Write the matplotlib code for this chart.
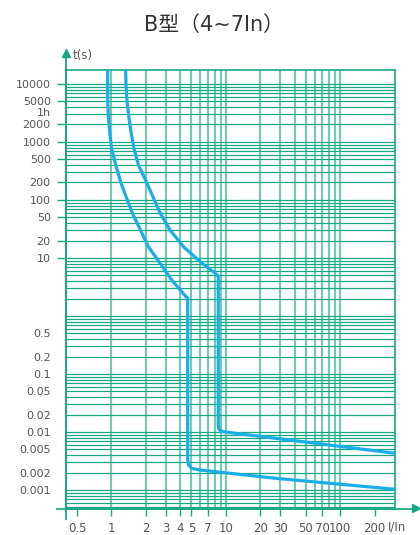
import matplotlib
matplotlib.use('Agg')
import matplotlib.pyplot as plt
import numpy as np
from matplotlib.ticker import FixedLocator, LogLocator, NullFormatter

plt.rcParams['font.family'] = ['DejaVu Sans']

# ---------------- data ----------------
title = 'B型（4~7In）'
x_ticks = [0.5, 1, 2, 3, 4, 5, 7, 10, 20, 30, 50, 70, 100, 200]
x_tick_labels = ['0.5', '1', '2', '3', '4', '5', '7', '10', '20', '30', '50', '70', '100', '200']
y_ticks = [10000, 5000, 2000, 1000, 500, 200, 100, 50, 20, 10,
           0.5, 0.2, 0.1, 0.05, 0.02, 0.01, 0.005, 0.002, 0.001]
y_tick_labels = ['10000', '5000', '2000', '1000', '500', '200', '100', '50', '20', '10',
                 '0.5', '0.2', '0.1', '0.05', '0.02', '0.01', '0.005', '0.002', '0.001']
hour_value = 3600
hour_label = '1h'

# curve at the 4In side
curve_a_I = [0.926, 0.926, 0.938, 0.961, 1.00, 1.09, 1.21, 1.52, 2.10, 3.36, 4.48, 4.64,
             4.64, 4.72, 5.06, 5.94, 27.3, 300]
curve_a_t = [17400, 5300, 2920, 1610, 788, 401, 196, 59.7, 15.7, 4.18, 2.15, 2.04,
             0.0033, 0.0027, 0.00235, 0.00221, 0.00159, 0.00103]

# curve at the 7In side
curve_b_I = [1.33, 1.34, 1.36, 1.41, 1.48, 1.57, 1.72, 2.04, 2.66, 3.25, 4.25, 6.15, 7.77,
             8.49, 8.59, 8.59, 8.71, 9.26, 10.2, 27.3, 300]
curve_b_t = [17400, 9610, 5740, 2920, 1506, 788, 401, 196, 59.7, 30.4, 15.7, 8.2, 5.8,
             4.99, 4.70, 0.0132, 0.0110, 0.0102, 0.0099, 0.00779, 0.0043]

x_range = (0.4, 300)
y_range = (0.00047, 17400)

# ---------------- style ----------------
green = '#19a883'
green_light = '#6ecdb1'
blue = '#1aaee8'
label_col = '#555555'

fig = plt.figure(figsize=(4.2, 5.35), dpi=100)
ax = fig.add_axes([66 / 420, 1 - 509 / 535, 328.7 / 420, 439 / 535])
ax.set_xscale('log')
ax.set_yscale('log')
ax.set_xlim(*x_range)
ax.set_ylim(*y_range)

# grid
grid_x = [m * 10.0 ** k for k in (0, 1) for m in range(1, 10)] + [100]
ax.xaxis.remove_overlapping_locs = False
ax.yaxis.remove_overlapping_locs = False
ax.xaxis.set_minor_locator(FixedLocator(grid_x))
ax.yaxis.set_minor_locator(LogLocator(base=10, subs=np.arange(1, 10), numticks=100))
ax.xaxis.set_minor_formatter(NullFormatter())
ax.yaxis.set_minor_formatter(NullFormatter())
ax.grid(False, which='major')
ax.grid(True, which='minor', axis='x', color=green_light, lw=1.5, zorder=1)
ax.grid(True, which='minor', axis='y', color=green, lw=0.9, zorder=1)
ax.tick_params(which='minor', length=0)

ax.set_xticks(x_ticks)
ax.set_xticklabels(x_tick_labels)
ax.set_yticks(y_ticks)
ax.set_yticklabels(y_tick_labels)
ax.tick_params(axis='x', which='major', length=5, width=1, color=green, pad=4,
               labelsize=8.5, labelcolor=label_col)
ax.tick_params(axis='y', which='major', length=6.5, width=1, color=green, pad=4.5,
               labelsize=8, labelcolor=label_col)
for val, tk in zip(y_ticks, ax.yaxis.get_major_ticks()):
    if val < 10:
        tk.tick1line.set_visible(False)

# "1h" label, nudged slightly downward as in the reference
ax.annotate(hour_label, xy=(0, hour_value), xycoords=('axes fraction', 'data'),
            xytext=(-11, -2.5), textcoords='offset points', ha='right', va='center',
            fontsize=8, color=label_col)

for s in ax.spines.values():
    s.set_color(green)
    s.set_linewidth(1.2)

# curves
ax.plot(curve_a_I, curve_a_t, color=blue, lw=2.3, solid_joinstyle='round', zorder=3)
ax.plot(curve_b_I, curve_b_t, color=blue, lw=2.3, solid_joinstyle='round', zorder=3)

# axis extensions and arrows
ax.plot([0, 0], [-0.023, 1.035], transform=ax.transAxes, color=green, lw=1.3, clip_on=False)
ax.plot([-0.027, 1.055], [0, 0], transform=ax.transAxes, color=green, lw=1.3, clip_on=False)
ax.plot([0], [1.038], marker='^', ms=6, color=green, transform=ax.transAxes, clip_on=False)
ax.plot([1.066], [0.003], marker='>', ms=6, color=green, transform=ax.transAxes, clip_on=False)

ax.text(0.021, 1.034, 't(s)', transform=ax.transAxes, ha='left', va='center',
        fontsize=8.5, color=label_col)
ax.text(1.0085, -0.042, 'I/In', transform=ax.transAxes, ha='center', va='center',
        fontsize=8.5, color=label_col)

fig.text(214 / 420, 1 - 25 / 535, title, ha='center', va='center', fontsize=15,
         color='#333333', family=['DejaVu Sans', 'Noto Sans CJK SC'])

fig.savefig('out.png', dpi=100)
